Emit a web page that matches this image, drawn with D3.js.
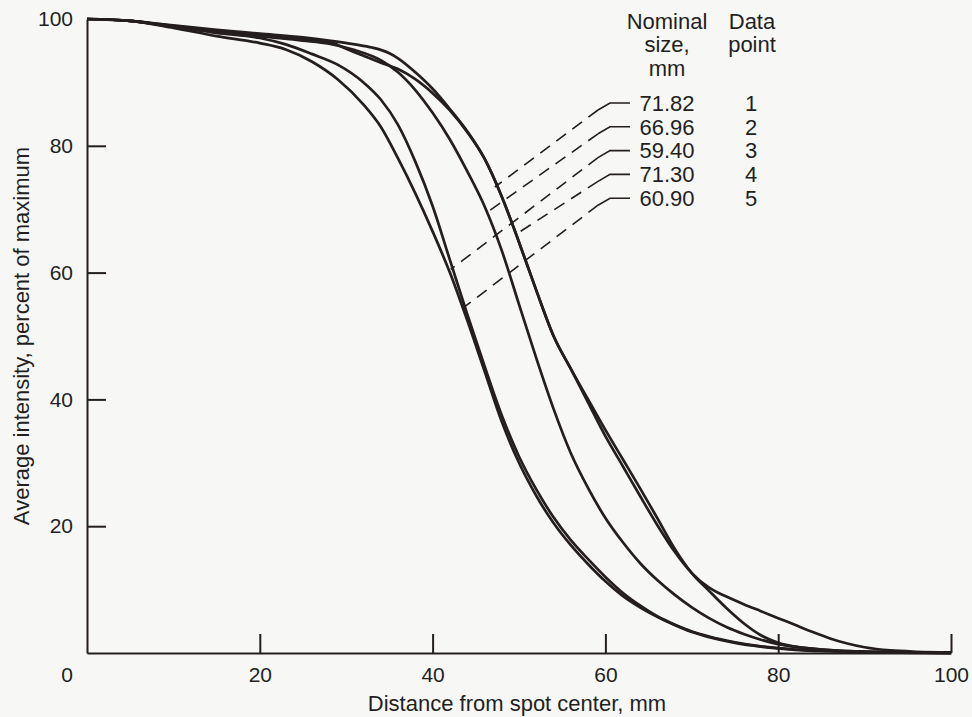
<!DOCTYPE html>
<html>
<head>
<meta charset="utf-8">
<script src="https://cdn.jsdelivr.net/npm/d3@7"></script>
<style>
  body { margin: 0; background: #f7f7f5; }
  svg text { font-family: "Liberation Sans", Arial, sans-serif; fill: #231f1f; }
</style>
</head>
<body>
<script>
// Data (distance mm, intensity %)
var curve1 = [[0,100],[5,99.7],[10,99],[15,98.3],[20,97.7],[25,97.1],[28,96.6],[31,96],[33,95.5],[35,94.6],[36,93.8],[38,91.6],[40,89],[42,85.8],[44,82.3],[46,78],[48,72],[50,64.8],[52,57.2],[54,50],[56,44.8],[58,39.5],[60,34.2],[62,29.5],[64,24.8],[66,20.2],[68,16],[70,12.6],[72,10.3],[74,8.9],[76,7.7],[78,6.6],[80,5.5],[82,4.4],[84,3.3],[86,2.3],[88,1.5],[90,0.9],[93,0.4],[96,0.2],[100,0.1]];
var curve2 = [[0,100],[5,99.7],[10,98.9],[15,98.1],[20,97.3],[25,96.6],[28,96.1],[31,95.1],[34,93.5],[36,91.6],[38,88.8],[40,85.2],[42,81],[44,76],[46,70.5],[48,63.5],[50,55],[52,46.5],[54,38.5],[56,31.5],[58,26],[60,21.3],[62,17.5],[64,14.2],[66,11.5],[68,9.2],[70,7.2],[72,5.5],[74,4.1],[76,3],[78,2.1],[80,1.4],[83,0.8],[88,0.3],[94,0.1],[100,0]];
var curve3 = [[0,100],[5,99.7],[10,98.6],[15,97.3],[20,96.2],[23,95.2],[26,93.3],[29,90.5],[32,86.5],[34,83],[36,78],[38,72.5],[40,66.5],[42,60],[44,52.5],[46,44.5],[48,36.5],[50,30],[52,24.8],[54,20.5],[56,17],[58,14],[60,11.3],[62,9],[64,7.2],[66,5.7],[68,4.4],[70,3.3],[72,2.5],[75,1.6],[78,1],[82,0.5],[88,0.2],[94,0.05],[100,0]];
var curve4 = [[0,100],[5,99.7],[10,98.8],[15,98],[20,97.4],[25,96.8],[28,96.4],[30,95.3],[32,94.2],[34,93.1],[36,92.1],[38,90.5],[40,88.3],[42,85.6],[44,82.2],[46,78],[48,72],[50,64.8],[52,57.2],[54,50],[56,44.8],[58,40],[60,35.2],[62,30.6],[64,26],[66,21.3],[68,16.5],[70,12.6],[72,9.8],[74,7.1],[76,4.7],[78,2.8],[80,1.6],[83,0.8],[88,0.3],[94,0.1],[100,0]];
var curve5 = [[0,100],[5,99.7],[10,98.8],[15,97.8],[20,97],[23,96],[26,94.5],[29,92.8],[32,90],[34,87.3],[36,83.3],[38,77.5],[40,70.5],[42,62],[44,53.5],[46,45.3],[48,37.5],[50,31],[52,25.8],[54,21.4],[56,17.8],[58,14.8],[60,12],[62,9.5],[64,7.5],[66,5.8],[68,4.5],[70,3.4],[72,2.6],[75,1.7],[78,1.05],[82,0.55],[88,0.2],[94,0.05],[100,0]];

var curves = [curve1, curve2, curve3, curve4, curve5];
var nominalSizes = ['71.82', '66.96', '59.40', '71.30', '60.90'];
var dataPoints = ['1', '2', '3', '4', '5'];
// where each leader line meets its curve (distance mm, intensity %)
var leaderTargets = [[47.2, 73.5], [46.3, 69.5], [42.1, 60.5], [49.6, 66], [43.6, 54.5]];

var xTicks = [20, 40, 60, 80, 100];
var yTicks = [20, 40, 60, 80, 100];

// Layout
var WIDTH = 972;
var HEIGHT = 717;
var LEFT = 87, RIGHT = 951, TOP = 19, BOTTOM = 653;
var INK = '#241e1e';
var TICK_FONT = 21;
var FONT_SIZE = 22;

var x = d3.scaleLinear().domain([0, 100]).range([LEFT, RIGHT]);
var y = d3.scaleLinear().domain([0, 100]).range([BOTTOM, TOP]);

var svg = d3.select('body').append('svg')
  .attr('width', WIDTH)
  .attr('height', HEIGHT);

svg.append('rect')
  .attr('width', WIDTH)
  .attr('height', HEIGHT)
  .attr('fill', '#f7f7f5');

var xAxis = svg.append('g')
  .attr('transform', 'translate(0,' + BOTTOM + ')')
  .call(d3.axisBottom(x).tickValues(xTicks).tickSizeInner(-19).tickSizeOuter(0).tickPadding(14));

var yAxis = svg.append('g')
  .attr('transform', 'translate(' + LEFT + ',0)')
  .call(d3.axisLeft(y).tickValues(yTicks).tickSizeInner(-19).tickSizeOuter(0).tickPadding(14));

[xAxis, yAxis].forEach(function (g) {
  g.attr('font-family', null).attr('font-size', null);
  g.selectAll('path, line').attr('stroke', INK).attr('stroke-width', 2);
  g.selectAll('text').attr('font-size', TICK_FONT).attr('fill', INK);
});
yAxis.selectAll('.tick').filter(function (d) { return d === 100; }).select('line').remove();

svg.append('text')
  .attr('x', x(0) - 20)
  .attr('y', BOTTOM + 14)
  .attr('dy', '0.71em')
  .attr('text-anchor', 'middle')
  .attr('font-size', TICK_FONT)
  .text('0');

svg.append('text')
  .attr('x', 517)
  .attr('y', 711)
  .attr('text-anchor', 'middle')
  .attr('font-size', FONT_SIZE)
  .text('Distance from spot center, mm');

svg.append('text')
  .attr('transform', 'translate(29,' + ((TOP + BOTTOM) / 2) + ') rotate(-90)')
  .attr('text-anchor', 'middle')
  .attr('font-size', FONT_SIZE)
  .text('Average intensity, percent of maximum');

// Curves
var line = d3.line()
  .x(function (d) { return x(d[0]); })
  .y(function (d) { return y(d[1]); })
  .curve(d3.curveMonotoneX);

svg.append('g')
  .selectAll('path')
  .data(curves)
  .join('path')
  .attr('d', line)
  .attr('fill', 'none')
  .attr('stroke', INK)
  .attr('stroke-width', 2.7)
  .attr('stroke-linejoin', 'round');

// Legend
var legend = svg.append('g').attr('font-size', FONT_SIZE);
var header1 = ['Nominal', 'size,', 'mm'];
var header2 = ['Data', 'point'];
var ROW_Y0 = 103, ROW_STEP = 23.8;

legend.selectAll('.h1').data(header1).join('text')
  .attr('x', 667)
  .attr('y', function (d, i) { return 21 + i * 23.5; })
  .attr('dy', '0.35em')
  .attr('text-anchor', 'middle')
  .text(function (d) { return d; });

legend.selectAll('.h2').data(header2).join('text')
  .attr('x', 752)
  .attr('y', function (d, i) { return 21 + i * 23.5; })
  .attr('dy', '0.35em')
  .attr('text-anchor', 'middle')
  .text(function (d) { return d; });

legend.selectAll('.size').data(nominalSizes).join('text')
  .attr('x', 667)
  .attr('y', function (d, i) { return ROW_Y0 + i * ROW_STEP; })
  .attr('dy', '0.35em')
  .attr('text-anchor', 'middle')
  .text(function (d) { return d; });

legend.selectAll('.pt').data(dataPoints).join('text')
  .attr('x', 751)
  .attr('y', function (d, i) { return ROW_Y0 + i * ROW_STEP; })
  .attr('dy', '0.35em')
  .attr('text-anchor', 'middle')
  .text(function (d) { return d; });

// Leader lines: short solid elbow, then dashed to the curve
leaderTargets.forEach(function (t, i) {
  var ry = ROW_Y0 + i * ROW_STEP;
  svg.append('path')
    .attr('d', 'M630,' + ry + 'H610L598,' + (ry + 7))
    .attr('fill', 'none')
    .attr('stroke', INK)
    .attr('stroke-width', 1.6);
  svg.append('line')
    .attr('x1', 598)
    .attr('y1', ry + 7)
    .attr('x2', x(t[0]))
    .attr('y2', y(t[1]))
    .attr('stroke', INK)
    .attr('stroke-width', 1.6)
    .attr('stroke-dasharray', '12,8');
});
</script>
</body>
</html>
